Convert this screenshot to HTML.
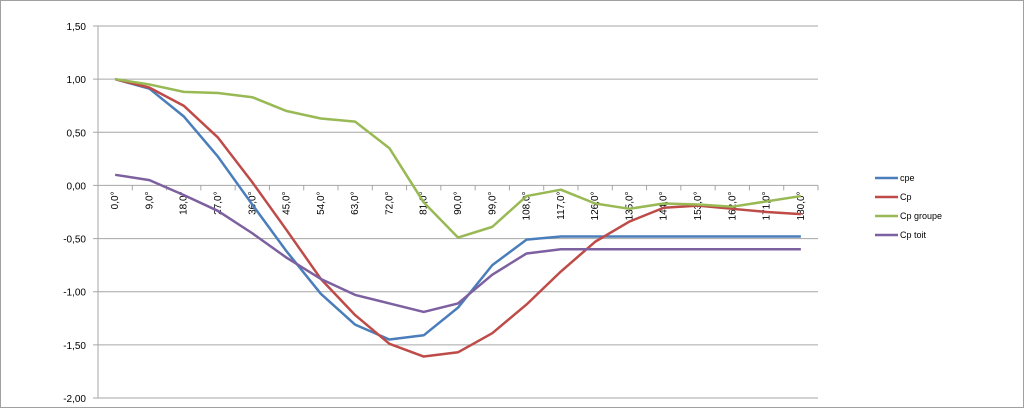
<!DOCTYPE html>
<html><head><meta charset="utf-8"><style>
html,body{margin:0;padding:0;background:#fff}
svg{display:block;font-family:"Liberation Sans","DejaVu Sans",sans-serif}
</style></head><body>
<svg id="c" width="1024" height="408">
<rect x="0.5" y="0.5" width="1023" height="407" fill="#fff" stroke="#a0a0a0"/>
<g id="grid"></g><g id="axes"></g><g id="series"></g><g id="legend"></g>
</svg>
<script>
const categories=["0,0°","9,0°","18,0°","27,0°","36,0°","45,0°","54,0°","63,0°","72,0°","81,0°","90,0°","99,0°","108,0°","117,0°","126,0°","135,0°","144,0°","153,0°","162,0°","171,0°","180,0°"];
const seriesNames=["cpe","Cp","Cp groupe","Cp toit"];
const cpe=[1.0,0.91,0.65,0.27,-0.18,-0.62,-1.02,-1.31,-1.45,-1.41,-1.15,-0.75,-0.51,-0.48,-0.48,-0.48,-0.48,-0.48,-0.48,-0.48,-0.48];
const cp=[1.0,0.92,0.75,0.45,0.03,-0.42,-0.88,-1.22,-1.49,-1.61,-1.57,-1.39,-1.12,-0.81,-0.53,-0.34,-0.21,-0.19,-0.22,-0.25,-0.27];
const cpGroupe=[1.0,0.95,0.88,0.87,0.83,0.70,0.63,0.60,0.35,-0.16,-0.49,-0.39,-0.10,-0.04,-0.17,-0.22,-0.17,-0.18,-0.20,-0.15,-0.10];
const cpToit=[0.10,0.05,-0.09,-0.24,-0.45,-0.68,-0.88,-1.03,-1.11,-1.19,-1.11,-0.84,-0.64,-0.60,-0.60,-0.60,-0.60,-0.60,-0.60,-0.60,-0.60];
const yTicks=[1.5,1.0,0.5,0,-0.5,-1.0,-1.5,-2.0];
const colors=["#4a7ebb","#be4b48","#98b954","#7d60a0"];
const NS="http://www.w3.org/2000/svg";
const X0=98,X1=818,Y0=26,Y1=398,YMAX=1.5,YMIN=-2;
const band=(X1-X0)/categories.length;
const xs=i=>X0+band*(i+0.5);
const ys=v=>Y0+(YMAX-v)/(YMAX-YMIN)*(Y1-Y0);
function mk(t,a,p){const e=document.createElementNS(NS,t);for(const k in a)e.setAttribute(k,a[k]);p.appendChild(e);return e;}
const grid=document.getElementById('grid'),axes=document.getElementById('axes'),ser=document.getElementById('series'),leg=document.getElementById('legend');
yTicks.forEach(v=>{
 const l=mk('line',{x1:X0-5,x2:X1,y1:ys(v),y2:ys(v),stroke:'#a6a6a6','stroke-width':1},grid);
 
 
 const t=mk('text',{x:X0-12,y:ys(v)+4,'text-anchor':'end','font-size':10,fill:'#000'},axes);
 t.textContent=v.toFixed(2).replace('.',',');
 
 
});
const ya=mk('line',{x1:X0,x2:X0,y1:Y0,y2:Y1,stroke:'#a6a6a6'},axes);


const z=ys(0);
for(let i=0;i<=categories.length;i++){
 const tk=mk('line',{x1:X0+band*i,x2:X0+band*i,y1:z,y2:z+5,stroke:'#a6a6a6'},axes);
 
 
}
categories.forEach((c,i)=>{
 const x=xs(i)+3,y=z+6;
 const t=mk('text',{x:x,y:y,'text-anchor':'end','font-size':10,fill:'#000',transform:`rotate(-90 ${x} ${y})`},axes);
 t.textContent=c;
 
 
});
[cpe,cp,cpGroupe,cpToit].forEach((d,s)=>{
 const p=mk('polyline',{points:d.map((v,i)=>xs(i)+','+ys(v)).join(' '),fill:'none',stroke:colors[s],'stroke-width':2.5,'stroke-linejoin':'round'},ser);
 
 
});
seriesNames.forEach((n,s)=>{
 const y=178+s*19;
 const l=mk('line',{x1:875,x2:898,y1:y,y2:y,stroke:colors[s],'stroke-width':2.5},leg);
 
 
 const t=mk('text',{x:900,y:y+3,'font-size':9,fill:'#000'},leg);
 t.textContent=n;
 
 
});
</script>
</body></html>
